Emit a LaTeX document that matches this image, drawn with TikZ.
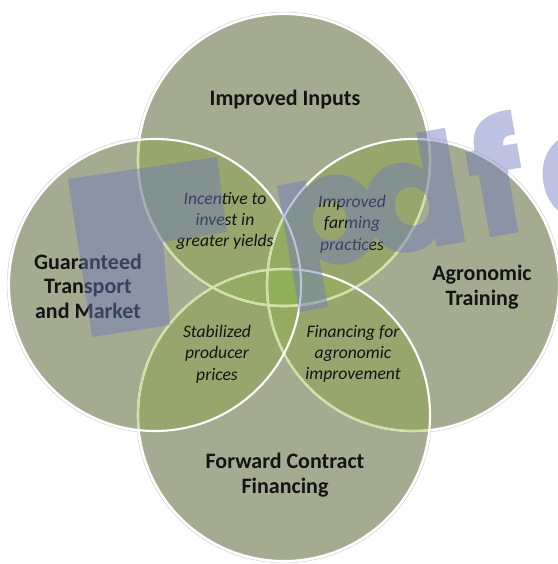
\documentclass[tikz,border=0pt]{standalone}
\usepackage{fontspec}
\setmainfont{Carlito}
\newfontfamily\markfont{Poppins}[FakeBold=2]

\definecolor{vennbase}{RGB}{164,171,145}
\definecolor{venntwo}{RGB}{150,166,108}
\definecolor{vennthree}{RGB}{148,171,98}
\definecolor{vennfour}{RGB}{146,176,90}
\definecolor{vennrim}{RGB}{206,224,166}
\definecolor{markblue}{RGB}{110,120,190}

\newcommand{\vennr}{109.5pt}

\tikzset{
    core/.style={font=\fontsize{16.5}{18.4}\selectfont\bfseries, align=center, text=black!92, inner sep=0pt},
    overlap/.style={font=\fontsize{13.2}{16}\selectfont\itshape, align=center, text=black!92, inner sep=0pt},
    rim/.style={line width=1.6pt},
    stampletter/.style={anchor=base west, inner sep=0pt, text=markblue,
        font=\markfont\bfseries\fontsize{114}{114}\selectfont},
}

\begin{document}
\begin{tikzpicture}[x=0.75pt, y=-0.75pt]
    \useasboundingbox (0,0) rectangle (557,564);

    % circle centres
    \coordinate (inputs) at (284,160);
    \coordinate (training) at (413,285);
    \coordinate (financing) at (284,415);
    \coordinate (transport) at (155,285);

    % faint outer edge
    \foreach \c in {inputs,training,financing,transport}
        \draw[gray!35, line width=0.4pt] (\c) circle (\vennr+1.4pt);

    % plain discs
    \foreach \c in {inputs,training,financing,transport}
        \fill[vennbase] (\c) circle (\vennr);

    % two-way overlaps
    \foreach \a/\b in {inputs/training, inputs/financing, inputs/transport,
                       training/financing, training/transport, financing/transport} {
        \begin{scope}
            \clip (\a) circle (\vennr);
            \fill[venntwo] (\b) circle (\vennr);
        \end{scope}
    }

    % three-way overlaps
    \foreach \a/\b/\c in {inputs/training/financing, inputs/training/transport,
                          inputs/financing/transport, training/financing/transport} {
        \begin{scope}
            \clip (\a) circle (\vennr);
            \clip (\b) circle (\vennr);
            \fill[vennthree] (\c) circle (\vennr);
        \end{scope}
    }

    % middle
    \begin{scope}
        \clip (inputs) circle (\vennr);
        \clip (training) circle (\vennr);
        \clip (financing) circle (\vennr);
        \fill[vennfour] (transport) circle (\vennr);
    \end{scope}

    % outlines, each one faded where a later disc lies over it
    \draw[rim, white] (inputs) circle (\vennr);
    \foreach \c in {training,financing,transport} {
        \begin{scope}
            \clip (\c) circle (\vennr);
            \draw[rim, vennrim] (inputs) circle (\vennr);
        \end{scope}
    }
    \draw[rim, white] (training) circle (\vennr);
    \foreach \c in {financing,transport} {
        \begin{scope}
            \clip (\c) circle (\vennr);
            \draw[rim, vennrim] (training) circle (\vennr);
        \end{scope}
    }
    \draw[rim, white] (financing) circle (\vennr);
    \begin{scope}
        \clip (transport) circle (\vennr);
        \draw[rim, vennrim] (financing) circle (\vennr);
    \end{scope}
    \draw[rim, white] (transport) circle (\vennr);

    % Labels
    \node[core] (inputs text) at (285,100) {Improved Inputs};
    \node[core] (training text) at (482,287) {Agronomic\\Training};
    \node[core] (financing text) at (285,475) {Forward Contract\\Financing};
    \node[core] (transport text) at (88,286) {Guaranteed\\Transport\\and Market};

    % Overlap labels
    \node[overlap] (yields text) at (225,221) {Incentive to\\invest in\\greater yields};
    \node[overlap] (farming text) at (352,224) {Improved\\farming\\practices};
    \node[overlap] (prices text) at (217,354) {Stabilized\\producer\\prices};
    \node[overlap] (agro text) at (353,354) {Financing for\\agronomic\\improvement};

    % stamp on top
    \begin{scope}[transparency group, opacity=0.45]
        \fill[markblue] (68,179) -- (217,157) -- (227,232) -- (163,242)
            -- (170,325) -- (92,337) -- cycle;
        \begin{scope}[shift={(284,272)}, rotate=10, transform shape]
            \node[stampletter] (stamp p) at (0,0) {p};
            \node[stampletter] (stamp d) at (88,0) {d};
            \node[stampletter] (stamp f) at (198,0) {f};
            \node[stampletter] (stamp e) at (268,0) {e};
        \end{scope}
    \end{scope}
\end{tikzpicture}
\end{document}
